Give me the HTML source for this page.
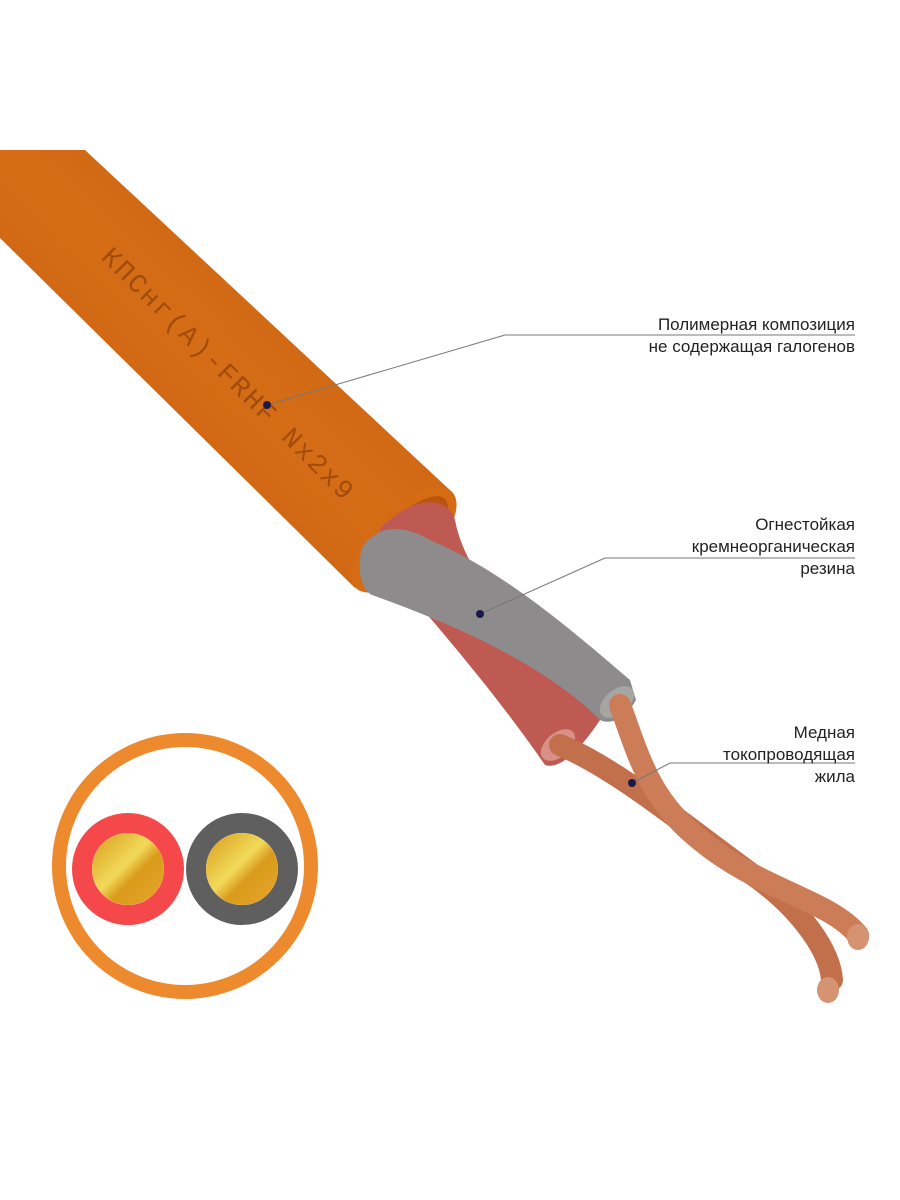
<!DOCTYPE html>
<html><head><meta charset="utf-8"><style>
html,body{margin:0;padding:0;background:#fff}
svg{display:block}
</style></head><body>
<svg width="900" height="1200" viewBox="0 0 900 1200" xmlns="http://www.w3.org/2000/svg">
<defs>
<linearGradient id="jk" x1="0" y1="1" x2="1" y2="0">
<stop offset="0" stop-color="#c45a0c"/><stop offset="0.5" stop-color="#d56c16"/><stop offset="1" stop-color="#c45c10"/>
</linearGradient>
<linearGradient id="gold" x1="0" y1="0" x2="1" y2="1">
<stop offset="0" stop-color="#d89a1a"/><stop offset="0.45" stop-color="#f2da5a"/><stop offset="0.6" stop-color="#d99b1c"/><stop offset="1" stop-color="#e8a52a"/>
</linearGradient>
</defs>
<!-- jacket -->
<polygon points="0,150 85,150 452,492 355,588 0,238" fill="url(#jk)"/>
<ellipse cx="404" cy="540" rx="68" ry="30" transform="rotate(-45 404 540)" fill="#d56c14"/>
<ellipse cx="404" cy="540" rx="58" ry="22" transform="rotate(-45 404 540)" fill="#b9550e"/>
<!-- red core -->
<path d="M380,528 C420,490 450,500 455,520 C470,600 560,650 600,700 L600,720 C580,750 560,770 545,765 C500,700 450,640 380,560 Z" fill="#bf5a52"/>
<!-- gray core -->
<path d="M362,548 C380,520 410,528 430,540 C500,570 560,620 630,680 L636,700 C625,720 610,725 600,720 C550,670 470,630 372,595 C362,590 356,570 362,548 Z" fill="#8d8b8b"/>
<ellipse cx="617" cy="702" rx="20" ry="12" transform="rotate(-40 617 702)" fill="#a7a5a4"/>
<ellipse cx="558" cy="745" rx="20" ry="12" transform="rotate(-40 558 745)" fill="#d89088"/>
<!-- copper wires -->
<path d="M560,745 C620,770 690,830 760,880 C800,910 830,950 832,980" stroke="#c26f4c" stroke-width="22" fill="none" stroke-linecap="round"/>
<path d="M620,705 C640,760 650,800 700,840 C760,890 830,900 858,935" stroke="#cd7c58" stroke-width="22" fill="none" stroke-linecap="round"/>
<ellipse cx="858" cy="937" rx="11" ry="13" fill="#d59371"/>
<ellipse cx="828" cy="990" rx="11" ry="13" fill="#d59371"/>
<!-- jacket text -->
<text x="0" y="0" transform="translate(100,258) rotate(45)" font-family="Liberation Mono, monospace" font-size="27" letter-spacing="2" fill="#8e4208" fill-opacity="0.75">КПСнг(А)-FRHF Nx2x9</text>
<!-- leaders -->
<g stroke="#777" stroke-width="1" fill="none">
<polyline points="267,405 505,335 855,335"/>
<polyline points="480,614 605,558 855,558"/>
<polyline points="632,783 670,763 855,763"/>
</g>
<g fill="#1a1a4a"><circle cx="267" cy="405" r="4"/><circle cx="480" cy="614" r="4"/><circle cx="632" cy="783" r="4"/></g>
<g font-family="Liberation Sans, sans-serif" font-size="17" fill="#222" text-anchor="end">
<text x="855" y="330">Полимерная композиция</text>
<text x="855" y="352">не содержащая галогенов</text>
<text x="855" y="530">Огнестойкая</text>
<text x="855" y="552">кремнеорганическая</text>
<text x="855" y="574">резина</text>
<text x="855" y="738">Медная</text>
<text x="855" y="760">токопроводящая</text>
<text x="855" y="782">жила</text>
</g>
<!-- cross-section -->
<circle cx="185" cy="866" r="126" fill="none" stroke="#ee8a2e" stroke-width="14"/>
<circle cx="128" cy="869" r="46" fill="none" stroke="#f5484a" stroke-width="20"/>
<circle cx="128" cy="869" r="36" fill="url(#gold)"/>
<circle cx="242" cy="869" r="46" fill="none" stroke="#5f5f5f" stroke-width="20"/>
<circle cx="242" cy="869" r="36" fill="url(#gold)"/>
</svg>
</body></html>
